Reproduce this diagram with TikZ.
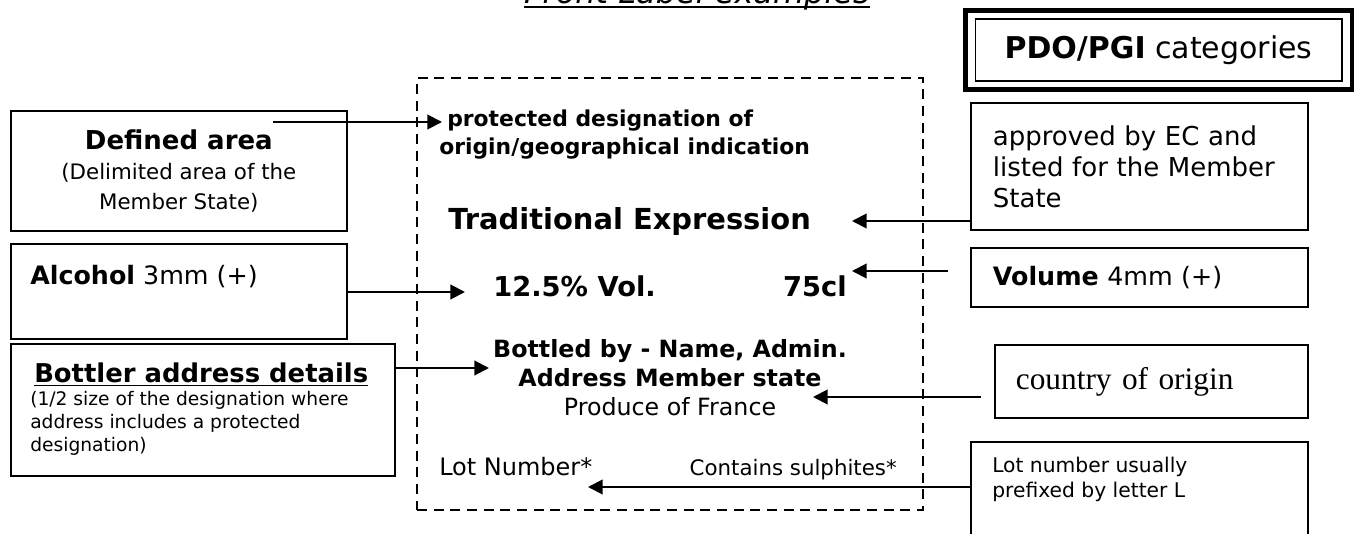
\documentclass[tikz,border=0pt]{standalone}
\usepackage{fontspec}
\setmainfont{DejaVu Sans}
\newfontfamily\timesface{Liberation Serif}
\usetikzlibrary{arrows.meta, positioning}

\newcommand{\fs}[2]{\fontsize{#1}{#2}\selectfont}

\begin{document}
\begin{tikzpicture}[
    x=0.75pt, y=-0.75pt,
    box/.style={draw=black, line width=1.3pt, anchor=north west, inner sep=0pt},
    rbox/.style={box, align=left, text width=219.75pt, inner xsep=16.5pt},
    lbl/.style={inner sep=0pt},
    dashbox/.style={lbl, draw=black, line width=1.4pt, dash pattern=on 7.5pt off 5pt},
    arrow/.style={-{Triangle[length=11pt, width=11pt]}, line width=1.5pt}
]

\useasboundingbox (0,0) rectangle (1362,534);

% Title
\node[lbl, anchor=base, font=\fs{24}{28}\itshape] (title) at (697,4) {Front Label examples};
\draw[line width=1.4pt] ([yshift=-2.3pt]title.base west) -- ([yshift=-2.3pt]title.base east);

% Front label - dashed
\node[dashbox, minimum width=379.5pt, minimum height=324pt] (frontlabel) at (670,294) {};
\node[lbl, anchor=north west, align=left, font=\fs{16.4}{21}\bfseries] (pdotxt) at (439,110) {\hspace*{6pt}protected designation of\\origin/geographical indication};
\node[lbl, anchor=base west, font=\fs{21.7}{26}\bfseries] (trad) at (448,230) {Traditional Expression};
\node[lbl, anchor=base west, font=\fs{20.5}{24}\bfseries] (vol) at (493,297) {12.5\% Vol.};
\node[lbl, anchor=base east, font=\fs{20.5}{24}\bfseries] (cl) at (847,297) {75cl};
\node[lbl, anchor=north, align=center, font=\fs{17.8}{21.75}] (bottled) at (670,339) {\textbf{Bottled by - Name, Admin.}\\\textbf{Address Member state}\\Produce of France};
\node[lbl, anchor=base west, font=\fs{18}{22}] (lotno) at (439,475) {Lot Number*};
\node[lbl, anchor=base east, font=\fs{16}{20}] (sulph) at (897,475) {Contains sulphites*};

% Left column
\node[box, minimum width=252pt, minimum height=90pt, align=center, font=\fs{16}{22.5}] (defined) at (10,110) {\textbf{\fs{19.5}{22.5}Defined area}\\(Delimited area of the\\Member State)};
\node[box, minimum width=252pt, minimum height=71.25pt] (alcohol) at (10,243) {};
\node[lbl, anchor=west, font=\fs{19}{23}] (alctxt) at (30,277) {\textbf{Alcohol} 3mm (+)};
\node[box, minimum width=288pt, minimum height=99pt] (bottler) at (10,343) {};
\node[lbl, anchor=north west, align=left, font=\fs{14}{17.25}] (bottxt) at (30,363) {\hspace*{3pt}\textbf{\fs{19.4}{19.5}\underline{Bottler address details}}\\(1/2 size of the designation where\\address includes a protected\\designation)};

% Right column
\node[lbl, draw, line width=1pt, minimum width=275pt, minimum height=46.5pt, font=\fs{22.5}{26}] (pdo) at (1158.5,50) {\textbf{PDO/PGI} categories};
\node[lbl, draw, line width=3.5pt, minimum width=290pt, minimum height=59.6pt] (pdoframe) at (pdo) {};
\node[rbox, minimum height=95.25pt, font=\fs{19.5}{23.25}] (approved) at (970,102) {approved by EC and\\listed for the Member\\State};
\node[rbox, minimum height=44.25pt, font=\fs{19}{23}] (volume) at (970,247) {\textbf{Volume} 4mm (+)};
\node[box, align=left, text width=203.25pt, inner xsep=15.75pt, minimum height=54.75pt, font=\fs{23.5}{27}\timesface] (country) at (994,344) {country of origin};
\node[box, minimum width=252.75pt, minimum height=90pt] (lotbox) at (970,441) {};
\node[lbl, anchor=north west, align=left, font=\fs{15.2}{18.75}] (lottxt) at (992,457) {Lot number usually\\prefixed by letter L};

% Connectors
\coordinate (defA) at (273,122);
\coordinate (defB) at (442,122);
\coordinate (alcB) at (465,292);
\coordinate (botB) at (489,368);
\coordinate (tradB) at (852,221);
\coordinate (volA) at (948,271);
\coordinate (volB) at (852,271);
\coordinate (ctyA) at (981,397);
\coordinate (ctyB) at (813,397);
\coordinate (lotB) at (588,487);

\draw[arrow] (defA) -- (defB);
\draw[arrow] (alcohol.east |- alcB) -- (alcB);
\draw[arrow] (bottler.east |- botB) -- (botB);
\draw[arrow] (approved.west |- tradB) -- (tradB);
\draw[arrow] (volA) -- (volB);
\draw[arrow] (ctyA) -- (ctyB);
\draw[arrow] (lotbox.west |- lotB) -- (lotB);

\end{tikzpicture}
\end{document}
